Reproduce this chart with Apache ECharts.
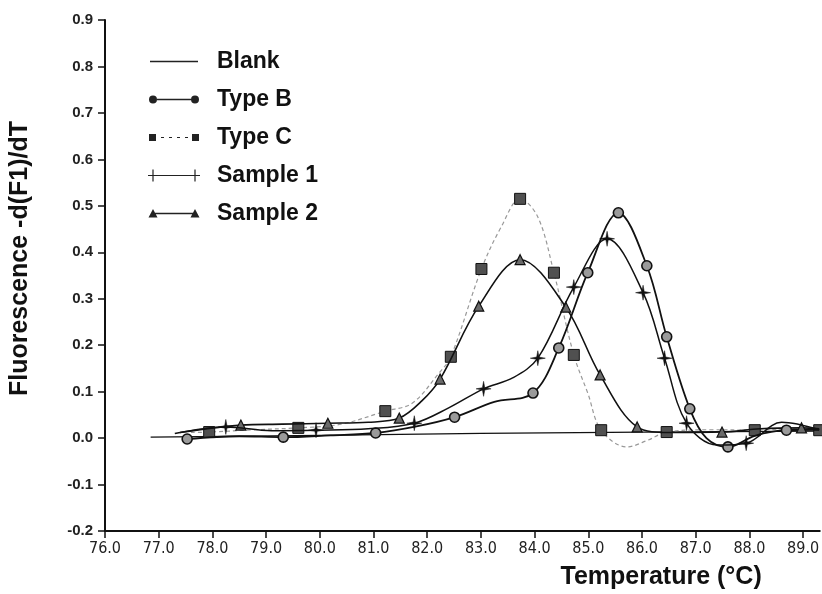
<!DOCTYPE html>
<html><head><meta charset="utf-8">
<script src="https://cdn.jsdelivr.net/npm/echarts@6/dist/echarts.min.js"></script>
<style>html,body{margin:0;padding:0;background:#fff}#c{width:822px;height:594px}</style>
</head><body><div id="c"></div>
<script>
// ---- data ----
const seriesNames = ['Blank', 'Type B', 'Type C', 'Sample 1', 'Sample 2'];

const blankT = [76.85, 80.0, 83.0, 86.0, 89.3];
const blankV = [0.002, 0.006, 0.010, 0.013, 0.015];

const typeBT = [77.53, 78.5, 79.32, 80.2, 81.04, 81.8, 82.51, 83.25, 83.97, 84.45, 84.99, 85.56, 86.09, 86.46, 86.89, 87.2, 87.6, 88.1, 88.69, 89.3];
const typeBV = [-0.002, 0.004, 0.002, 0.006, 0.011, 0.025, 0.045, 0.078, 0.097, 0.194, 0.356, 0.485, 0.371, 0.218, 0.063, 0.0, -0.019, 0.005, 0.017, 0.018];
const typeBM = [1, 0, 1, 0, 1, 0, 1, 0, 1, 1, 1, 1, 1, 1, 1, 0, 1, 0, 1, 0];

const typeCT = [77.6, 77.94, 78.8, 79.6, 80.4, 81.22, 81.72, 82.22, 82.44, 83.01, 83.38, 83.73, 84.06, 84.36, 84.73, 84.99, 85.24, 85.72, 86.1, 86.46, 87.3, 88.1, 88.7, 89.3];
const typeCV = [0.012, 0.013, 0.018, 0.022, 0.030, 0.058, 0.075, 0.140, 0.175, 0.364, 0.455, 0.515, 0.476, 0.356, 0.179, 0.097, 0.017, -0.019, -0.005, 0.013, 0.018, 0.017, 0.020, 0.017];
const typeCM = [0, 1, 0, 1, 0, 1, 0, 0, 1, 1, 0, 1, 0, 1, 1, 0, 1, 0, 0, 1, 0, 1, 0, 1];

const sample1T = [77.3, 78.25, 79.1, 79.93, 80.9, 81.76, 82.4, 83.05, 83.6, 84.06, 84.73, 85.35, 86.02, 86.42, 86.83, 87.4, 87.94, 88.6, 89.3];
const sample1V = [0.010, 0.024, 0.016, 0.017, 0.020, 0.032, 0.065, 0.106, 0.130, 0.172, 0.325, 0.429, 0.313, 0.172, 0.032, -0.015, -0.011, 0.034, 0.018];
const sample1M = [0, 1, 0, 1, 0, 1, 0, 1, 0, 1, 1, 1, 1, 1, 1, 0, 1, 0, 0];

const sample2T = [77.4, 78.53, 79.3, 80.15, 80.9, 81.48, 81.9, 82.24, 82.96, 83.73, 84.58, 85.22, 85.91, 86.5, 87.49, 88.2, 88.97, 89.3];
const sample2V = [0.012, 0.028, 0.030, 0.032, 0.034, 0.043, 0.080, 0.127, 0.284, 0.384, 0.282, 0.136, 0.024, 0.012, 0.013, 0.020, 0.022, 0.020];
const sample2M = [0, 1, 0, 1, 0, 1, 0, 1, 1, 1, 1, 1, 1, 0, 1, 0, 1, 0];

const xMin = 76.0, xMax = 89.31, xStep = 1.0;
const yMin = -0.2, yMax = 0.9, yStep = 0.1;
const xTitle = 'Temperature (°C)';
const yTitle = 'Fluorescence -d(F1)/dT';

// ---- build ----
function pts(T, V, M) {
  return T.map((t, i) => (M && M[i]) ? [t, V[i]] : { value: [t, V[i]], symbol: 'none' });
}
const starPath = 'path://M0,-7L1.1,-1.1L7,0L1.1,1.1L0,7L-1.1,1.1L-7,0L-1.1,-1.1Z';
const pad = 'M0,0L0.01,0L0,0.01Z M52,14L51.99,14L52,13.99Z ';
const icons = {
  'Blank': 'path://' + pad + 'M2,6.3L50,6.3L50,7.7L2,7.7Z',
  'Type B': 'path://' + pad + 'M1,7A4,4 0 1,0 9,7A4,4 0 1,0 1,7Z M43,7A4,4 0 1,0 51,7A4,4 0 1,0 43,7Z M9,6.3L43,6.3L43,7.7L9,7.7Z',
  'Type C': 'path://' + pad + 'M1,3.5L8,3.5L8,10.5L1,10.5Z M44,3.5L51,3.5L51,10.5L44,10.5Z M13,6.6L16,6.6L16,7.4L13,7.4Z M21,6.6L24,6.6L24,7.4L21,7.4Z M29,6.6L32,6.6L32,7.4L29,7.4Z M37,6.6L40,6.6L40,7.4L37,7.4Z',
  'Sample 1': 'path://' + pad + 'M4.4,1L5.6,1L5.6,13L4.4,13Z M46.4,1L47.6,1L47.6,13L46.4,13Z M0,6.4L52,6.4L52,7.6L0,7.6Z',
  'Sample 2': 'path://' + pad + 'M5,2.5L9.5,11L0.5,11Z M47,2.5L51.5,11L42.5,11Z M5,6.3L47,6.3L47,7.7L5,7.7Z'
};

const chart = echarts.init(document.getElementById('c'), null, { renderer: 'canvas' });
const axisFont = 'Liberation Sans';
chart.setOption({
  animation: false,
  backgroundColor: '#ffffff',
  grid: { left: 100, right: 0, top: 20, bottom: 63, containLabel: false },
  legend: {
    orient: 'vertical', left: 143, top: 45,
    itemWidth: 52, itemHeight: 14, itemGap: 15,
    symbolKeepAspect: false,
    textStyle: { fontFamily: axisFont, fontWeight: 'bold', fontSize: 23, color: '#111', padding: [0, 0, 0, 12] },
    data: seriesNames.map(n => ({ name: n, icon: icons[n], itemStyle: { color: '#222', borderWidth: 0 } }))
  },
  xAxis: {
    type: 'value', min: xMin, max: xMax, interval: xStep,
    name: xTitle, nameLocation: 'end', nameGap: 0,
    nameTextStyle: { fontFamily: axisFont, fontWeight: 'bold', fontSize: 25, color: '#111', align: 'right', verticalAlign: 'top', padding: [34, 58, 0, 0] },
    axisLine: { onZero: false, lineStyle: { color: '#111', width: 2 } },
    axisTick: { show: true, length: 7, lineStyle: { color: '#111', width: 1.5 } },
    axisLabel: { fontFamily: 'Liberation Sans Narrow, DejaVu Sans Condensed, sans-serif', fontSize: 16, color: '#222', margin: 10,
      formatter: v => v.toFixed(1), showMaxLabel: false },
    splitLine: { show: false }
  },
  yAxis: {
    type: 'value', min: yMin, max: yMax, interval: yStep,
    name: yTitle, nameLocation: 'middle', nameGap: 72,
    nameTextStyle: { fontFamily: axisFont, fontWeight: 'bold', fontSize: 25, color: '#111', padding: [0, 0, 0, 34] },
    axisLine: { show: true, onZero: false, lineStyle: { color: '#111', width: 2 } },
    axisTick: { show: true, length: 7, lineStyle: { color: '#111', width: 1.5 } },
    axisLabel: { fontFamily: axisFont, fontWeight: 'bold', fontSize: 15, color: '#222', margin: 12,
      formatter: v => (Math.abs(v) < 1e-9 ? 0 : v).toFixed(1) },
    splitLine: { show: false }
  },
  series: [
    { name: 'Blank', type: 'line', data: pts(blankT, blankV, null), symbol: 'none', smooth: false,
      itemStyle: { color: '#222' }, lineStyle: { color: '#111', width: 1.3 }, z: 2 },
    { name: 'Type B', type: 'line', data: pts(typeBT, typeBV, typeBM), symbol: 'circle', symbolSize: 10, smooth: 0.35,
      itemStyle: { color: '#9a9a9a', borderColor: '#111', borderWidth: 1.6 }, lineStyle: { color: '#111', width: 1.8 }, z: 4 },
    { name: 'Type C', type: 'line', data: pts(typeCT, typeCV, typeCM), symbol: 'rect', symbolSize: 11, smooth: 0.35,
      itemStyle: { color: '#505050', borderColor: '#111', borderWidth: 1 }, lineStyle: { color: '#999999', width: 1.2, type: [4, 3] }, z: 3 },
    { name: 'Sample 1', type: 'line', data: pts(sample1T, sample1V, sample1M), symbol: starPath, symbolSize: 15, smooth: 0.35,
      itemStyle: { color: '#111', borderColor: '#111', borderWidth: 0.5 }, lineStyle: { color: '#111', width: 1.5 }, z: 5 },
    { name: 'Sample 2', type: 'line', data: pts(sample2T, sample2V, sample2M), symbol: 'triangle', symbolSize: 10, smooth: 0.35,
      itemStyle: { color: '#6a6a6a', borderColor: '#111', borderWidth: 1.2 }, lineStyle: { color: '#111', width: 1.6 }, z: 4 }
  ]
});
</script>
</body></html>
